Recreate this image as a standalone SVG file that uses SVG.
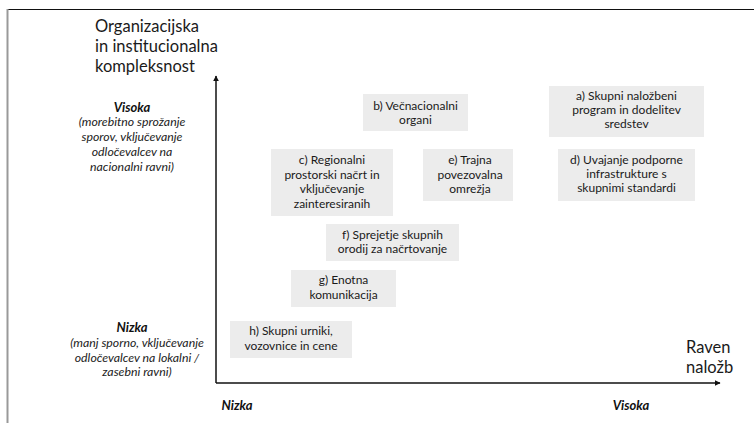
<svg xmlns="http://www.w3.org/2000/svg" width="754" height="423" viewBox="0 0 754 423">
<defs>
<marker id="ah" viewBox="0 0 10 10" refX="9" refY="5" markerWidth="6" markerHeight="6" markerUnits="userSpaceOnUse" orient="auto"><path d="M0,0 L10,5 L0,10 Z" fill="#111"/></marker>
<style>
.box{fill:#ececec}
.t{font-family:Lato,"Liberation Sans",sans-serif;font-size:12px;fill:#1a1a1a;text-anchor:middle}
.big{font-family:Lato,"Liberation Sans",sans-serif;font-size:16.5px;fill:#1a1a1a}
.lb{font-family:Lato,"Liberation Sans",sans-serif;font-size:13px;font-weight:bold;font-style:italic;fill:#111;text-anchor:middle}
.li{font-family:Lato,"Liberation Sans",sans-serif;font-size:12.3px;font-style:italic;fill:#222;text-anchor:middle}
.ax{stroke:#111;stroke-width:1.5;fill:none}
</style>
</defs>
<rect width="754" height="423" fill="#fff"/>
<g id="frame">
<line x1="7" y1="9.5" x2="754" y2="9.5" stroke="#111" stroke-width="1.2"/>
<line x1="7.5" y1="9" x2="7.5" y2="423" stroke="#999" stroke-width="2"/>
</g>
<g id="connectors">
<line class="ax" x1="216" y1="383" x2="216" y2="76" marker-end="url(#ah)"/>
<line class="ax" x1="216" y1="383" x2="720" y2="383" marker-end="url(#ah)"/>
</g>
<g id="axis-labels">
<text class="big" x="95" y="32">Organizacijska</text>
<text class="big" x="95" y="52">in institucionalna</text>
<text class="big" x="95" y="72">kompleksnost</text>
<text class="big" x="686" y="353">Raven</text>
<text class="big" x="686" y="373">naložb</text>
<text class="lb" x="132" y="112">Visoka</text>
<text class="li" x="132" y="126">(morebitno sprožanje</text>
<text class="li" x="132" y="141">sporov, vključevanje</text>
<text class="li" x="132" y="156">odločevalcev na</text>
<text class="li" x="132" y="171">nacionalni ravni)</text>
<text class="lb" x="132" y="332">Nizka</text>
<text class="li" x="137" y="347">(manj sporno, vključevanje</text>
<text class="li" x="137" y="362">odločevalcev na lokalni /</text>
<text class="li" x="137" y="376">zasebni ravni)</text>
<text class="lb" x="237" y="410">Nizka</text>
<text class="lb" x="631" y="410">Visoka</text>
</g>
<g id="node-a">
<rect class="box" x="549" y="86" width="155" height="51"/>
<text class="t" x="626.5" y="100">a) Skupni naložbeni</text>
<text class="t" x="626.5" y="114">program in dodelitev</text>
<text class="t" x="626.5" y="128">sredstev</text>
</g>
<g id="node-b">
<rect class="box" x="363" y="94" width="105" height="37"/>
<text class="t" x="415.5" y="110">b) Večnacionalni</text>
<text class="t" x="415.5" y="124">organi</text>
</g>
<g id="node-c">
<rect class="box" x="271" y="149" width="122" height="67"/>
<text class="t" x="332" y="164">c) Regionalni</text>
<text class="t" x="332" y="178.5">prostorski načrt in</text>
<text class="t" x="332" y="193">vključevanje</text>
<text class="t" x="332" y="207.5">zainteresiranih</text>
</g>
<g id="node-e">
<rect class="box" x="423" y="149" width="90" height="52"/>
<text class="t" x="470" y="164">e)  Trajna</text>
<text class="t" x="470" y="178.5">povezovalna</text>
<text class="t" x="470" y="193">omrežja</text>
</g>
<g id="node-d">
<rect class="box" x="558" y="149" width="137" height="52"/>
<text class="t" x="626.5" y="163.5">d) Uvajanje podporne</text>
<text class="t" x="626.5" y="178">infrastrukture s</text>
<text class="t" x="626.5" y="192">skupnimi standardi</text>
</g>
<g id="node-f">
<rect class="box" x="326" y="224" width="133" height="37"/>
<text class="t" x="392.5" y="238.5">f) Sprejetje skupnih</text>
<text class="t" x="392.5" y="253">orodij za načrtovanje</text>
</g>
<g id="node-g">
<rect class="box" x="291" y="270" width="105" height="37"/>
<text class="t" x="343.5" y="284">g) Enotna</text>
<text class="t" x="343.5" y="298.5">komunikacija</text>
</g>
<g id="node-h">
<rect class="box" x="230" y="321" width="122" height="37"/>
<text class="t" x="291" y="335">h) Skupni urniki,</text>
<text class="t" x="291" y="349.5">vozovnice in cene</text>
</g>
</svg>
